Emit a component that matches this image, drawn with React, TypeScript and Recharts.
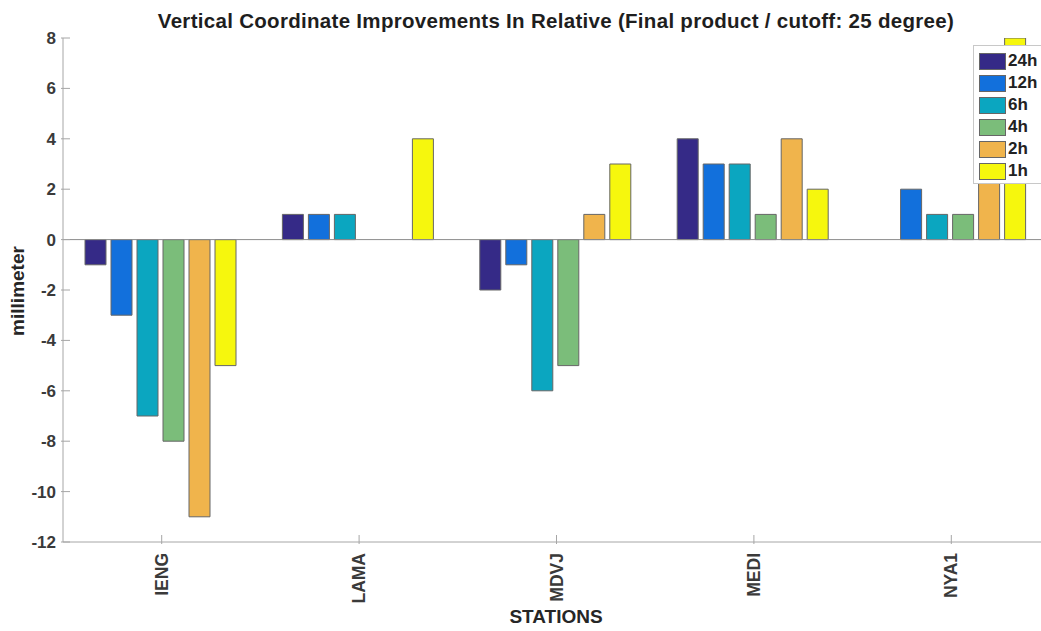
import React from 'react';
import { BarChart, Bar, XAxis, YAxis, ReferenceLine } from 'recharts';

const stations = ['IENG', 'LAMA', 'MDVJ', 'MEDI', 'NYA1'];

const h24 = [-1, 1, -2, 4, 0];
const h12 = [-3, 1, -1, 3, 2];
const h6 = [-7, 1, -6, 3, 1];
const h4 = [-8, 0, -5, 1, 1];
const h2 = [-11, 0, 1, 4, 6];
const h1 = [-5, 4, 3, 2, 8];

const yTicks = [-12, -10, -8, -6, -4, -2, 0, 2, 4, 6, 8];

const series = [
  { key: 'h24', name: '24h', values: h24, color: '#352a87' },
  { key: 'h12', name: '12h', values: h12, color: '#1270dc' },
  { key: 'h6', name: '6h', values: h6, color: '#0ba6c0' },
  { key: 'h4', name: '4h', values: h4, color: '#7bbd7a' },
  { key: 'h2', name: '2h', values: h2, color: '#f0b44c' },
  { key: 'h1', name: '1h', values: h1, color: '#f6f70d' },
];

const data = stations.map((station, i) => {
  const row: Record<string, string | number> = { station };
  series.forEach(s => { row[s.key] = s.values[i]; });
  return row;
});

const FONT = '"Liberation Sans", Arial, sans-serif';
const AXIS = '#a6a6a6';
const TEXT = '#3a3a3a';
const TICK_LEN = 9;

// left axis: tick mark pointing into the plot, bold number to the left
const LeftTick = (props: any) => {
  const { x, y, payload } = props;
  return (
    <g>
      <line x1={x} y1={y} x2={x + TICK_LEN} y2={y} stroke={AXIS} />
      <text x={x - 5} y={y} dy={6} textAnchor="end" fill={TEXT} fontSize={17} fontWeight="bold" fontFamily={FONT}>
        {payload.value}
      </text>
    </g>
  );
};

const RightTick = (props: any) => {
  const { x, y } = props;
  return <line x1={x} y1={y} x2={x - TICK_LEN} y2={y} stroke={AXIS} />;
};

// station names run bottom-to-top under the axis
const BottomTick = (props: any) => {
  const { x, y, payload } = props;
  return (
    <g>
      <line x1={x} y1={y} x2={x} y2={y - TICK_LEN} stroke={AXIS} />
      <text
        transform={`translate(${x}, ${y + 9}) rotate(-90)`}
        textAnchor="end"
        dominantBaseline="central"
        fill={TEXT}
        fontSize={17.5}
        fontWeight="bold"
        fontFamily={FONT}
      >
        {payload.value}
      </text>
    </g>
  );
};

const TopTick = (props: any) => {
  const { x, y } = props;
  return <line x1={x} y1={y} x2={x} y2={y + TICK_LEN} stroke={AXIS} />;
};

const LegendBox = () => (
  <div
    style={{
      position: 'absolute',
      left: 973,
      top: 45,
      width: 80,
      height: 139,
      background: '#fff',
      border: '1px solid #c8c8c8',
      boxSizing: 'border-box',
      paddingTop: 4,
      fontFamily: FONT,
    }}
  >
    {series.map(s => (
      <div key={s.key} style={{ display: 'flex', alignItems: 'center', height: 22 }}>
        <div
          style={{
            width: 27,
            height: 17,
            marginLeft: 5,
            background: s.color,
            border: '1px solid #666',
            boxSizing: 'border-box',
          }}
        />
        <span style={{ marginLeft: 2, fontSize: 17, fontWeight: 'bold', color: '#222' }}>{s.name}</span>
      </div>
    ))}
  </div>
);

export default function App() {
  return (
    <div
      style={{
        position: 'fixed',
        left: 0,
        top: 0,
        width: 1041,
        height: 631,
        overflow: 'hidden',
        background: '#fff',
      }}
    >
      <div
        style={{
          position: 'absolute',
          left: 0,
          width: 1112,
          top: 21,
          transform: 'translateY(-50%)',
          textAlign: 'center',
          fontFamily: FONT,
          fontWeight: 'bold',
          fontSize: 20.5,
          letterSpacing: 0.3,
          color: '#1e1e1e',
          whiteSpace: 'nowrap',
        }}
      >
        Vertical Coordinate Improvements In Relative (Final product / cutoff: 25 degree)
      </div>

      <BarChart
        width={1060}
        height={631}
        data={data}
        margin={{ top: 38, right: 0, bottom: 0, left: 0 }}
        barGap={5}
        barCategoryGap={22}
      >
        <XAxis
          dataKey="station"
          height={89}
          axisLine={{ stroke: AXIS }}
          tickLine={false}
          tickSize={0}
          tick={<BottomTick />}
          interval={0}
        />
        <XAxis
          xAxisId="top"
          orientation="top"
          dataKey="station"
          height={0}
          axisLine={{ stroke: AXIS }}
          tickLine={false}
          tickSize={0}
          tick={<TopTick />}
          interval={0}
        />
        <YAxis
          width={63}
          domain={[-12, 8]}
          ticks={yTicks}
          allowDataOverflow
          axisLine={{ stroke: AXIS }}
          tickLine={false}
          tickSize={0}
          tick={<LeftTick />}
          interval={0}
        />
        <YAxis
          yAxisId="right"
          orientation="right"
          width={10}
          domain={[-12, 8]}
          ticks={yTicks}
          axisLine={{ stroke: AXIS }}
          tickLine={false}
          tickSize={0}
          tick={<RightTick />}
          interval={0}
        />
        <ReferenceLine y={0} stroke="#8c8c8c" />
        {series.map(s => (
          <Bar
            key={s.key}
            dataKey={s.key}
            name={s.name}
            fill={s.color}
            stroke="#666"
            strokeWidth={1}
            isAnimationActive={false}
          />
        ))}
      </BarChart>

      <LegendBox />

      <div
        style={{
          position: 'absolute',
          left: 18,
          top: 291,
          transform: 'translate(-50%, -50%) rotate(-90deg)',
          fontFamily: FONT,
          fontWeight: 'bold',
          fontSize: 19,
          color: '#262626',
          whiteSpace: 'nowrap',
        }}
      >
        millimeter
      </div>

      <div
        style={{
          position: 'absolute',
          left: 556,
          top: 617,
          transform: 'translate(-50%, -50%)',
          fontFamily: FONT,
          fontWeight: 'bold',
          fontSize: 19,
          color: '#262626',
          whiteSpace: 'nowrap',
        }}
      >
        STATIONS
      </div>
    </div>
  );
}
